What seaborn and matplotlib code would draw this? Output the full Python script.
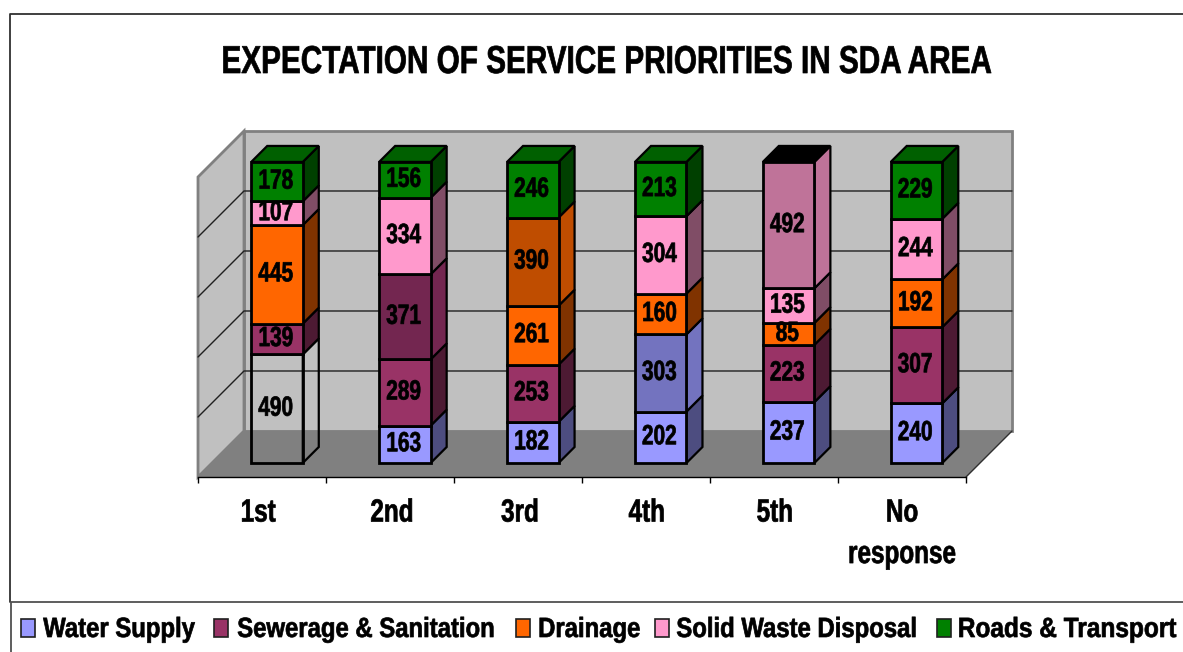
import numpy as np
import matplotlib
matplotlib.use("Agg")
import matplotlib.pyplot as plt
import seaborn as sns
from matplotlib.lines import Line2D
from matplotlib.patches import Polygon, Rectangle
from matplotlib.patheffects import AbstractPathEffect
from matplotlib.transforms import Affine2D

# Data, one list per stacking level
categories = ["1st", "2nd", "3rd", "4th", "5th", "No\nresponse"]
level_1 = [490, 163, 182, 202, 237, 240]
level_2 = [139, 289, 253, 303, 223, 307]
level_3 = [445, 371, 261, 160, 85, 192]
level_4 = [107, 334, 390, 304, 135, 244]
level_5 = [178, 156, 246, 213, 492, 229]
levels = [level_1, level_2, level_3, level_4, level_5]

legend_names = ["Water Supply", "Sewerage & Sanitation", "Drainage",
                "Solid Waste Disposal", "Roads & Transport"]
legend_colors = ["#9999FF", "#993366", "#FF6600", "#FF99CC", "#008000"]

# Colours per level and category: (front, side)
WATER = ("#9999FF", "#4D4D80")
WATER_ALT = ("#7373BF", "#7373BF")
SEWER = ("#993366", "#4D1A33")
SEWER_ALT = ("#732650", "#732650")
DRAIN = ("#FF6600", "#803300")
DRAIN_ALT = ("#BF4D00", "#BF4D00")
WASTE = ("#FF99CC", "#804D66")
WASTE_ALT = ("#BF7399", "#BF7399")
ROADS = ("#008000", "#004000")
EMPTY = ("none", "none")
level_colors = [
    [EMPTY, WATER, WATER, WATER, WATER, WATER],
    [SEWER, SEWER, SEWER, WATER_ALT, SEWER, SEWER],
    [DRAIN, SEWER_ALT, DRAIN, DRAIN, DRAIN, DRAIN],
    [WASTE, WASTE, DRAIN_ALT, WASTE, WASTE, WASTE],
    [ROADS, ROADS, ROADS, ROADS, WASTE_ALT, ROADS],
]
top_colors = ["#006000", "#006000", "#006000", "#006000", "#000000", "#006000"]

W, H = 1183, 652


class Squeeze(AbstractPathEffect):
    """Narrow a text horizontally and thicken it a bit (no condensed font is installed)"""

    def __init__(self, factor, anchor="center", shift=0, stroke=0.5):
        super().__init__()
        self.factor = factor
        self.anchor = anchor
        self.shift = shift
        self.stroke = stroke

    def draw_path(self, renderer, gc, tpath, affine, rgbFace=None):
        box = affine.transform_path(tpath).get_extents()
        cx = {"center": (box.x0 + box.x1) / 2, "right": box.x1}[self.anchor]
        squeeze = Affine2D().translate(-cx, 0).scale(self.factor, 1).translate(cx + self.shift, 0)
        gc0 = renderer.new_gc()
        gc0.copy_properties(gc)
        gc0.set_linewidth(self.stroke)
        gc0.set_foreground("black")
        renderer.draw_path(gc0, tpath, affine + squeeze, rgbFace)
        gc0.restore()


sns.set_theme(style="white")
plt.rcParams["font.family"] = ["Liberation Sans"]
plt.rcParams["font.weight"] = "bold"

fig = plt.figure(figsize=(W / 100, H / 100), dpi=100, facecolor="white")
# axes = front plane of the fake 3D box
ax = fig.add_axes([198 / W, (H - 477) / H, (966 - 198) / W, 300 / H])
ax.patch.set_visible(False)

xmin, xmax = -0.6177, 5.387
ymin, ymax = -4.65, 95.0
sx, sy = 1 / 127.9, 1 / 3.01  # data units per pixel
wall_dx, wall_dy = 46 * sx, 46 * sy
bar_dx, bar_dy = 16 * sx, 16 * sy

totals = np.sum(levels, axis=0)
bottom = np.zeros(len(categories))
labels_x = list(range(len(categories)))

# stacked 100% front faces
for vals, cols in zip(levels, level_colors):
    pct = np.array(vals) / totals * 100
    sns.barplot(x=labels_x, y=pct, bottom=bottom, width=0.403, color="white",
                edgecolor="black", linewidth=2, ax=ax, zorder=3, clip_on=False)
    cont = ax.containers[-1]
    for k, patch in enumerate(cont):
        patch.set_facecolor(cols[k][0])
        patch.set_clip_on(False)
        x0 = patch.get_x()
        x1 = x0 + patch.get_width()
        b = patch.get_y()
        t = b + patch.get_height()
        side = Polygon([(x1, b), (x1 + bar_dx, b + bar_dy), (x1 + bar_dx, t + bar_dy), (x1, t)],
                       facecolor=cols[k][1], edgecolor="black", lw=1.6, zorder=2.5,
                       clip_on=False)
        ax.add_patch(side)
        ax.text(k - 0.01, (b + t) / 2, str(vals[k]), ha="center", va="center", fontsize=20,
                fontweight="bold", color="black", zorder=6, clip_on=False,
                path_effects=[Squeeze(0.75)])
    bottom = bottom + pct

# top faces
for k, patch in enumerate(ax.containers[-1]):
    x0 = patch.get_x()
    x1 = x0 + patch.get_width()
    top = Polygon([(x0, 100), (x1, 100), (x1 + bar_dx, 100 + bar_dy), (x0 + bar_dx, 100 + bar_dy)],
                  facecolor=top_colors[k], edgecolor="black", lw=1.6, zorder=2.5, clip_on=False)
    ax.add_patch(top)

# walls and floor
back = Polygon([(xmin + wall_dx, ymin + wall_dy), (xmax + wall_dx, ymin + wall_dy),
                (xmax + wall_dx, ymax + wall_dy), (xmin + wall_dx, ymax + wall_dy)],
               facecolor="#C0C0C0", edgecolor="#808080", lw=2, zorder=0.2, clip_on=False)
left = Polygon([(xmin, ymin), (xmin + wall_dx, ymin + wall_dy),
                (xmin + wall_dx, ymax + wall_dy), (xmin, ymax)],
               facecolor="#C0C0C0", edgecolor="#808080", lw=2, zorder=0.2, clip_on=False)
floor = Polygon([(xmin, ymin), (xmax, ymin), (xmax + wall_dx, ymin + wall_dy),
                 (xmin + wall_dx, ymin + wall_dy)],
                facecolor="#808080", edgecolor="none", zorder=0.3, clip_on=False)
ax.add_patch(back)
ax.add_patch(left)
ax.add_patch(floor)
ax.plot([xmax, xmax + wall_dx], [ymin, ymin + wall_dy], color="#303030", lw=1, zorder=0.4, clip_on=False)

# gridlines at 20% steps
for frac in np.linspace(0.2, 0.8, 4):
    y = ymin + frac * (ymax - ymin)
    ax.plot([xmin, xmin + wall_dx, xmax + wall_dx], [y, y + wall_dy, y + wall_dy],
            color="#202020", lw=1, zorder=0.5, clip_on=False)

# axis
edges = xmin + np.arange(len(categories) + 1) * (xmax - xmin) / len(categories)
centres = (edges[:-1] + edges[1:]) / 2
ax.set_xlim(xmin, xmax)
ax.set_ylim(ymin, ymax)
ax.set_xticks(edges)
ax.set_xticklabels([])
ax.set_xticks(centres, labels=categories, minor=True)
ax.tick_params(axis="x", which="major", length=4.5, width=1, color="black", bottom=True, direction="out")
ax.tick_params(axis="x", which="minor", length=0, pad=15.5, labelsize=23)
shifts = [-4, 2, 2, 1, 1, 0]
for lab, s in zip(ax.get_xticklabels(minor=True), shifts):
    lab.set_fontweight("bold")
    lab.set_color("black")
    lab.set_linespacing(1.5)
    lab.set_path_effects([Squeeze(0.76, shift=s)])
ax.set_yticks([])
sns.despine(ax=ax, left=True)
ax.spines["bottom"].set_color("black")
ax.spines["bottom"].set_linewidth(1)
ax.spines["bottom"].set_zorder(0.6)

fig.text(606 / W, 1 - 63 / H, "EXPECTATION OF SERVICE PRIORITIES IN SDA AREA",
         ha="center", va="center", fontsize=28, fontweight="bold", color="black",
         path_effects=[Squeeze(0.764)])


# chart frame and legend box
def frame_line(xs, ys, color):
    fig.add_artist(Line2D([x / W for x in xs], [1 - y / H for y in ys], color=color, lw=1.3))


frame_line([10, 10, W], [602, 13.5, 13.5], "#303030")
frame_line([W, 11, 11], [602, 602, H], "#505050")

# legend, placed by hand because the narrowed text has to line up with the markers
marker_x = [21, 214, 516, 655, 937]
text_x = [119, 366, 589, 796.5, 1176]
text_squeeze = [0.86, 0.86, 0.86, 0.86, 0.88]
for name, col, mx, tx, sq in zip(legend_names, legend_colors, marker_x, text_x, text_squeeze):
    fig.add_artist(Rectangle((mx / W, 1 - 637 / H), 14 / W, 18 / H, transform=fig.transFigure,
                             facecolor=col, edgecolor="#202020", lw=1.2))
    anchor = "right" if tx == text_x[-1] else "center"
    fig.text(tx / W, 1 - 630 / H, name, ha=anchor, va="center", fontsize=20,
             fontweight="bold", color="black", path_effects=[Squeeze(sq, anchor)])

fig.savefig("out.png", dpi=100)
